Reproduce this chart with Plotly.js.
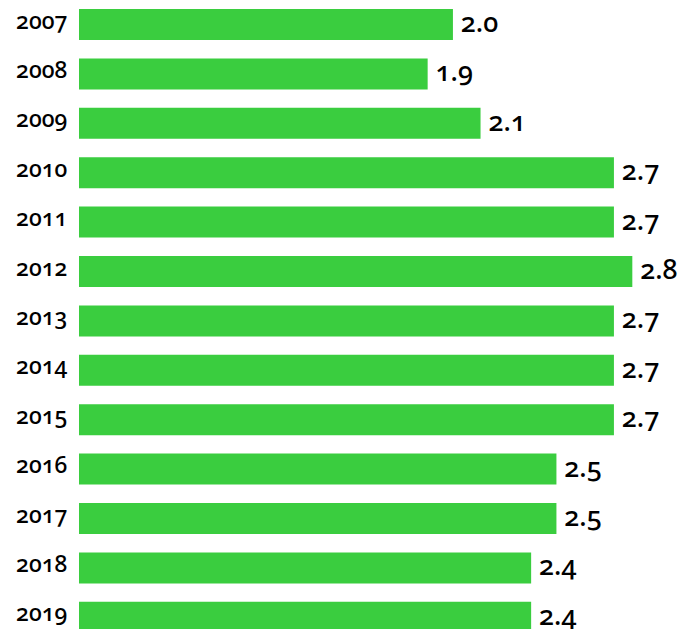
<!DOCTYPE html>
<html>
<head>
<meta charset="utf-8">
<script src="https://cdn.plot.ly/plotly-3.0.1.min.js"></script>
<style>
html,body{margin:0;padding:0;background:#fff;}
#chart{width:682px;height:629px;}
#chart svg text{font-variant-numeric: oldstyle-nums; font-feature-settings: "onum" 1;}
#chart svg text.bartext{translate: 0 -3px;}
</style>
</head>
<body>
<div id="chart"></div>
<script>
const years = ['2007','2008','2009','2010','2011','2012','2013','2014','2015','2016','2017','2018','2019'];
const values = [2.02, 1.91, 2.14, 2.72, 2.72, 2.80, 2.72, 2.72, 2.72, 2.47, 2.47, 2.36, 2.36];
const barColor = '#3ACD3F';

const trace = {
  type: 'bar',
  orientation: 'h',
  y: years,
  x: values,
  marker: {color: barColor},
  texttemplate: '\u2009%{x:.1f}',
  textposition: 'outside',
  constraintext: 'none',
  cliponaxis: false,
  textfont: {family: '"Noto Sans", sans-serif', size: 27, color: '#000', weight: 500},
  hoverinfo: 'none'
};

const layout = {
  width: 682,
  height: 629,
  margin: {l: 79, r: 0, t: 0, b: 0},
  paper_bgcolor: '#fff',
  plot_bgcolor: '#fff',
  bargap: 0.372,
  showlegend: false,
  xaxis: {range: [0.394, 3.016], visible: false, fixedrange: true},
  yaxis: {
    type: 'category',
    range: [12.237, -0.496],
    autorange: false,
    showgrid: false,
    showline: false,
    zeroline: false,
    ticks: 'outside',
    ticklen: 6,
    tickcolor: 'rgba(0,0,0,0)',
    ticklabelshift: 4,
    tickfont: {family: '"Noto Sans", sans-serif', size: 23, color: '#000', weight: 500}
  }
};

Plotly.newPlot('chart', [trace], layout, {displayModeBar: false, staticPlot: true});
</script>
</body>
</html>
